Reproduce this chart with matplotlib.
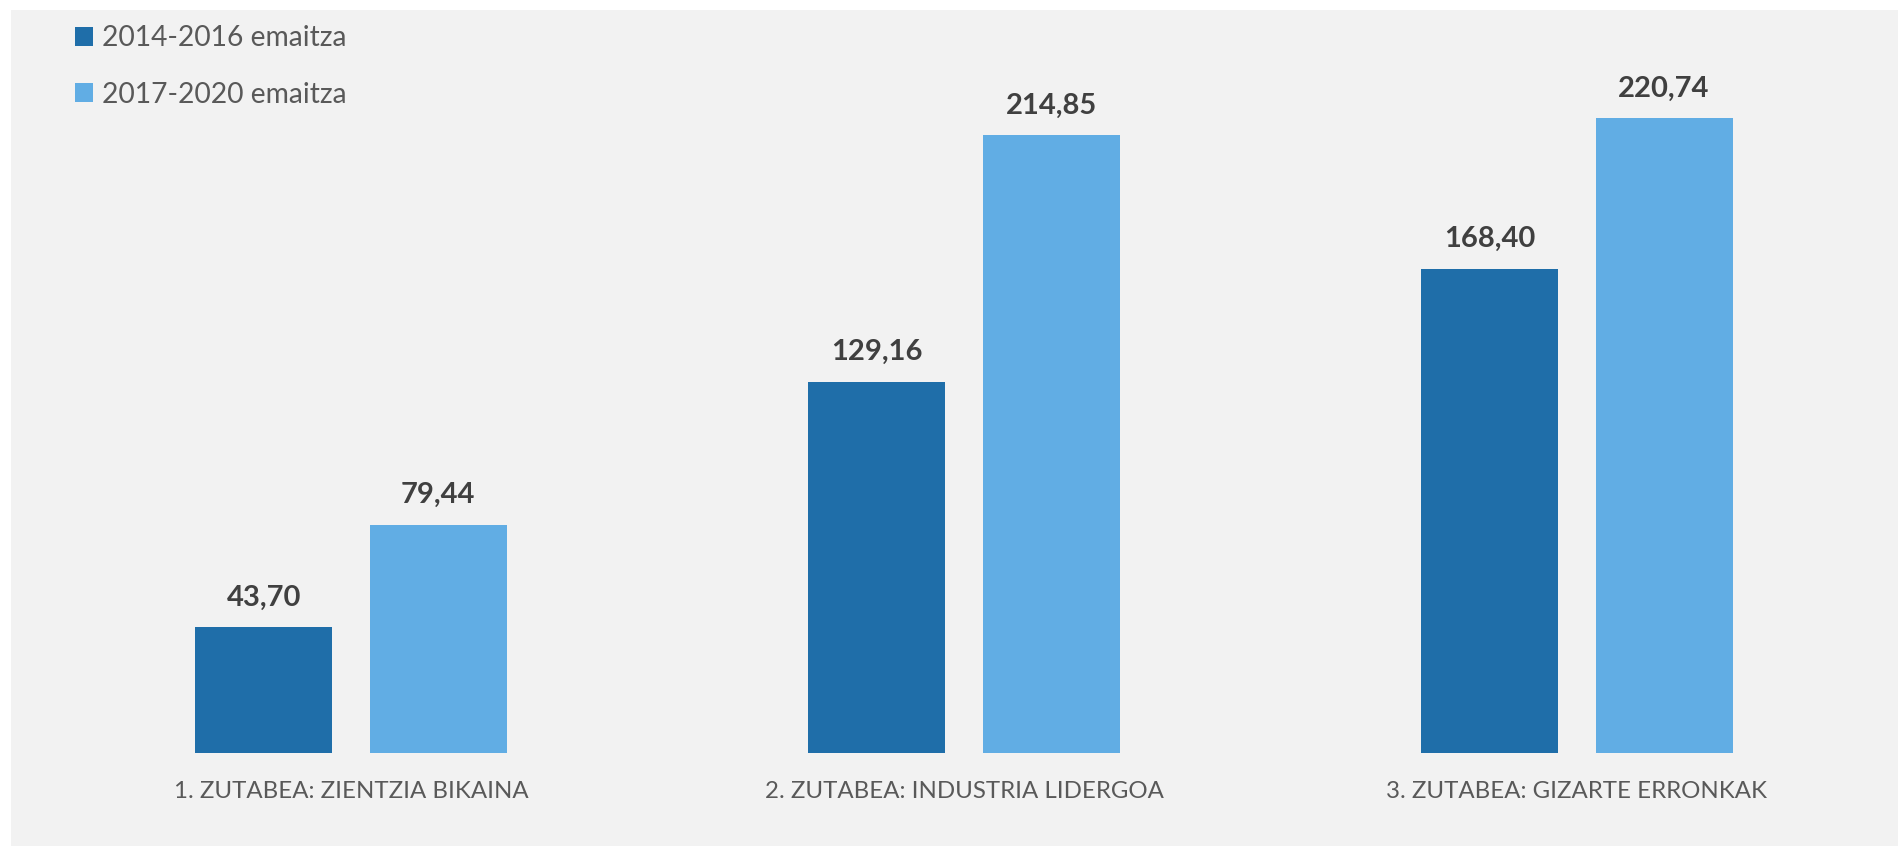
import matplotlib

matplotlib.use("Agg")
import matplotlib.pyplot as plt
import numpy as np
from matplotlib.patches import Rectangle

categories = ["1. ZUTABEA: ZIENTZIA BIKAINA", "2. ZUTABEA: INDUSTRIA LIDERGOA", "3. ZUTABEA: GIZARTE ERRONKAK"]
series_names = ["2014-2016 emaitza", "2017-2020 emaitza"]
vals_2014 = [43.70, 129.16, 168.40]
vals_2017 = [79.44, 214.85, 220.74]

DARK = "#1F6EA9"
LIGHT = "#61ADE4"
BG = "#F2F2F2"
LABEL = "#595959"
VALUE = "#404040"

plt.rcParams["font.family"] = ["Lato", "DejaVu Sans"]

W, H = 1899, 846
fig = plt.figure(figsize=(W / 100, H / 100), dpi=100)
fig.patch.set_facecolor("white")
# grey chart area, starting a little in from the top-left corner
fig.patches.append(Rectangle((11 / W, 0), 1, (H - 10) / H, transform=fig.transFigure,
                             facecolor=BG, edgecolor="none", zorder=-1))

ax = fig.add_axes([44.5 / W, (H - 753) / H, 1839 / W, (753 - 60) / H])
ax.set_facecolor("none")
ax.set_zorder(2)

x = np.arange(len(categories))
bw = 0.2235
off = 0.142
b1 = ax.bar(x - off, vals_2014, bw, color=DARK, label=series_names[0], zorder=2)
b2 = ax.bar(x + off, vals_2017, bw, color=LIGHT, label=series_names[1], zorder=2)

for bars, vals in ((b1, vals_2014), (b2, vals_2017)):
    for b, v in zip(bars, vals):
        ax.annotate(f"{v:.2f}".replace(".", ","), (b.get_x() + b.get_width() / 2, v),
                    xytext=(0, 12), textcoords="offset points", ha="center", va="bottom",
                    fontsize=21, fontweight="bold", color=VALUE)

ax.set_xlim(-0.5, 2.5)
ax.set_ylim(0, 693 / 2.875)
ax.set_xticks(x)
ax.set_xticklabels(categories, fontsize=17.3, color=LABEL)
ax.tick_params(axis="x", length=0, pad=20)
ax.set_yticks([])
for s in ax.spines.values():
    s.set_visible(False)

leg = fig.legend(handles=[b1, b2], loc="upper left", bbox_to_anchor=(50 / W, 1.0),
                 frameon=False, fontsize=20.3, labelcolor=LABEL, handlelength=0.64,
                 handleheight=0.64, handletextpad=0.3, labelspacing=1.07)
leg.set_zorder(3)

fig.savefig("out.png", dpi=100, facecolor=fig.get_facecolor())
